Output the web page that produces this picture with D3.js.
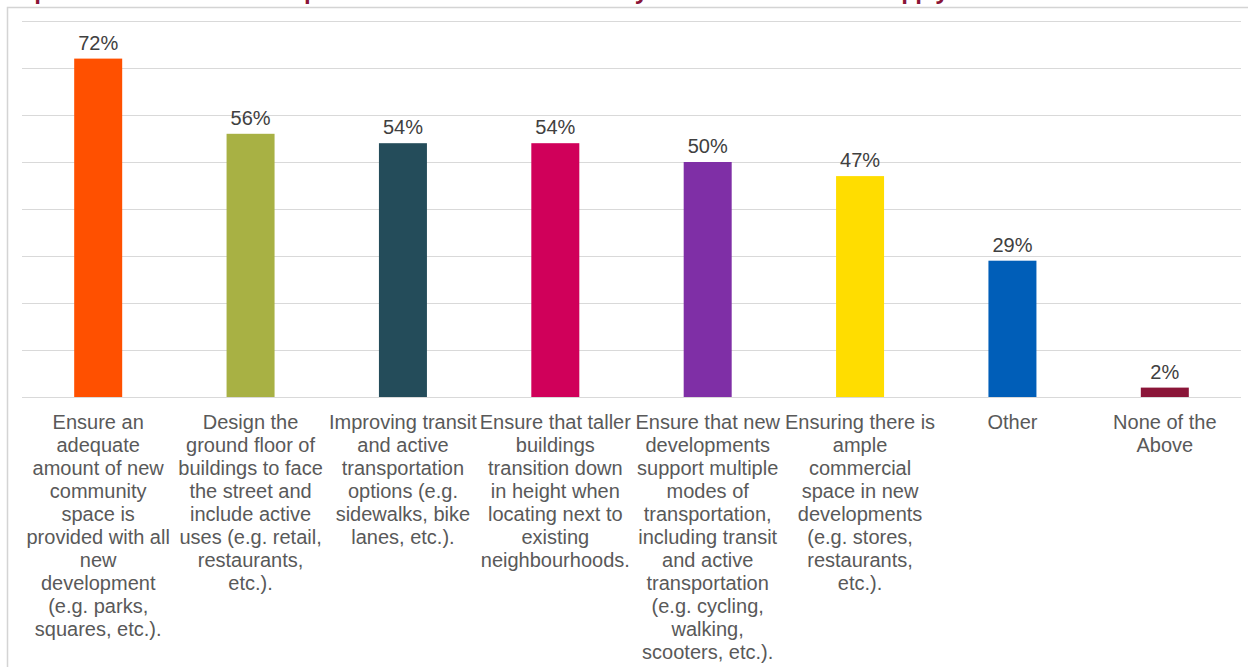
<!DOCTYPE html>
<html>
<head>
<meta charset="utf-8">
<script src="https://cdn.jsdelivr.net/npm/d3@7/dist/d3.min.js"></script>
<style>
  html, body { margin: 0; padding: 0; background: #ffffff; overflow: hidden; }
  svg { display: block; }
</style>
</head>
<body>
<svg id="chart" width="1248" height="667"></svg>
<script>
// Survey question heading
const titleText = "Top elements to include in plans for the whole community? Select all items that apply";

// Response options, one label line per entry
const categories = [
  ["Ensure an", "adequate", "amount of new", "community", "space is", "provided with all", "new", "development", "(e.g. parks,", "squares, etc.)."],
  ["Design the", "ground floor of", "buildings to face", "the street and", "include active", "uses (e.g. retail,", "restaurants,", "etc.)."],
  ["Improving transit", "and active", "transportation", "options (e.g.", "sidewalks, bike", "lanes, etc.)."],
  ["Ensure that taller", "buildings", "transition down", "in height when", "locating next to", "existing", "neighbourhoods."],
  ["Ensure that new", "developments", "support multiple", "modes of", "transportation,", "including transit", "and active", "transportation", "(e.g. cycling,", "walking,", "scooters, etc.)."],
  ["Ensuring there is", "ample", "commercial", "space in new", "developments", "(e.g. stores,", "restaurants,", "etc.)."],
  ["Other"],
  ["None of the", "Above"]
];

// Share of respondents choosing each option
const values = [0.72, 0.56, 0.54, 0.54, 0.50, 0.47, 0.29, 0.02];

// Bar fill per option
const colors = ["#FF5000", "#A8B144", "#244C5A", "#D0005A", "#7F2FA6", "#FFDD00", "#005EB8", "#8A1538"];

// Gridline positions
const gridTicks = [0, 0.1, 0.2, 0.3, 0.4, 0.5, 0.6, 0.7, 0.8];

const svg = d3.select("#chart");
const font = "'Liberation Sans', Arial, sans-serif";

// Heading (sits above the top edge of the frame)
svg.append("text")
  .attr("x", 8)
  .attr("y", -1)
  .attr("font-family", "'Open Sans', sans-serif")
  .attr("font-weight", "bold")
  .attr("font-size", 22)
  .attr("fill", "#8A1538")
  .text(titleText);

// Chart frame
svg.append("path")
  .attr("d", "M7.5,667 L7.5,7.5 L1248,7.5")
  .attr("fill", "none")
  .attr("stroke", "#d4d4d4")
  .attr("stroke-width", 1.5);

const idx = d3.range(values.length);
const x = d3.scaleBand()
  .domain(idx)
  .range([22, 1241])
  .paddingInner(0.685)
  .paddingOuter(0.3425);

const y = d3.scaleLinear()
  .domain([0, 0.8])
  .range([397, 21]);

// Horizontal gridlines
svg.append("g")
  .selectAll("line")
  .data(gridTicks)
  .join("line")
  .attr("x1", 22)
  .attr("x2", 1241)
  .attr("y1", d => Math.round(y(d)) + 0.5)
  .attr("y2", d => Math.round(y(d)) + 0.5)
  .attr("stroke", "#d9d9d9")
  .attr("stroke-width", 1);

// Bars
svg.append("g")
  .selectAll("rect")
  .data(idx)
  .join("rect")
  .attr("x", i => x(i))
  .attr("width", x.bandwidth())
  .attr("y", i => y(values[i]))
  .attr("height", i => y(0) - y(values[i]))
  .attr("fill", i => colors[i]);

// Value labels
svg.append("g")
  .selectAll("text")
  .data(idx)
  .join("text")
  .attr("x", i => x(i) + x.bandwidth() / 2)
  .attr("y", i => y(values[i]) - 9)
  .attr("text-anchor", "middle")
  .attr("font-family", font)
  .attr("font-size", 20)
  .attr("fill", "#404040")
  .text(i => d3.format(".0%")(values[i]));

// Category labels
const labels = svg.append("g")
  .selectAll("text")
  .data(idx)
  .join("text")
  .attr("text-anchor", "middle")
  .attr("font-family", font)
  .attr("font-size", 20)
  .attr("fill", "#595959");

labels.selectAll("tspan")
  .data(i => categories[i].map(line => ({ i, line })))
  .join("tspan")
  .attr("x", d => x(d.i) + x.bandwidth() / 2)
  .attr("y", (d, k) => 429 + k * 23)
  .text(d => d.line);
</script>
</body>
</html>
